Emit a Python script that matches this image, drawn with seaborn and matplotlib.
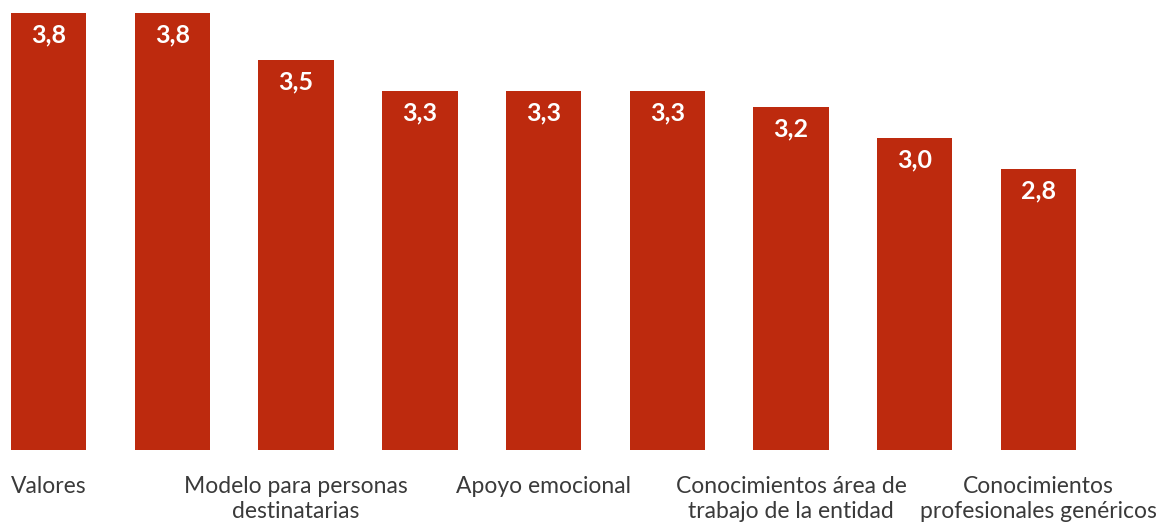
import matplotlib
matplotlib.use("Agg")
import matplotlib.pyplot as plt
import seaborn as sns
import pandas as pd

# Puntuación media por tipo de aporte (escala 1-4)
posiciones = list(range(9))
valores = [3.8, 3.8, 3.5, 3.3, 3.3, 3.3, 3.2, 3.0, 2.8]
etiquetas_pos = [0, 2, 4, 6, 8]
etiquetas = [
    "Valores",
    "Modelo para personas\ndestinatarias",
    "Apoyo emocional",
    "Conocimientos área de\ntrabajo de la entidad",
    "Conocimientos\nprofesionales genéricos",
]

ROJO = "#BD2A0E"
TEXTO = "#3A3A3A"

sns.set_theme(style="white")
plt.rcParams["font.family"] = ["Lato", "DejaVu Sans"]

df = pd.DataFrame({"pos": posiciones, "valor": valores})

fig = plt.figure(figsize=(11.75, 5.24), dpi=100)
ax = fig.add_axes([0.0, 1 - 450 / 524, 1.0, 450 / 524])

sns.barplot(data=df, x="pos", y="valor", color=ROJO, saturation=1,
            width=0.61, ax=ax, edgecolor="none")

ax.set_xlim(-0.392, 9.103)
ax.set_ylim(1.0, 3.8 + 13 / 156)

for p, v in zip(posiciones, valores):
    ax.annotate(f"{v:.1f}".replace(".", ","), xy=(p, v), xytext=(0, -22),
                textcoords="offset pixels", ha="center", va="center",
                color="white", fontsize=18, fontweight="bold")

ax.set_xticks(etiquetas_pos)
ax.set_xticklabels(etiquetas, fontsize=16.5, color=TEXTO, linespacing=1.22)
ax.tick_params(axis="x", length=0, pad=19)
ax.set_yticks([])
ax.set_xlabel("")
ax.set_ylabel("")
for s in ax.spines.values():
    s.set_visible(False)

fig.savefig("out.png", dpi=100)
